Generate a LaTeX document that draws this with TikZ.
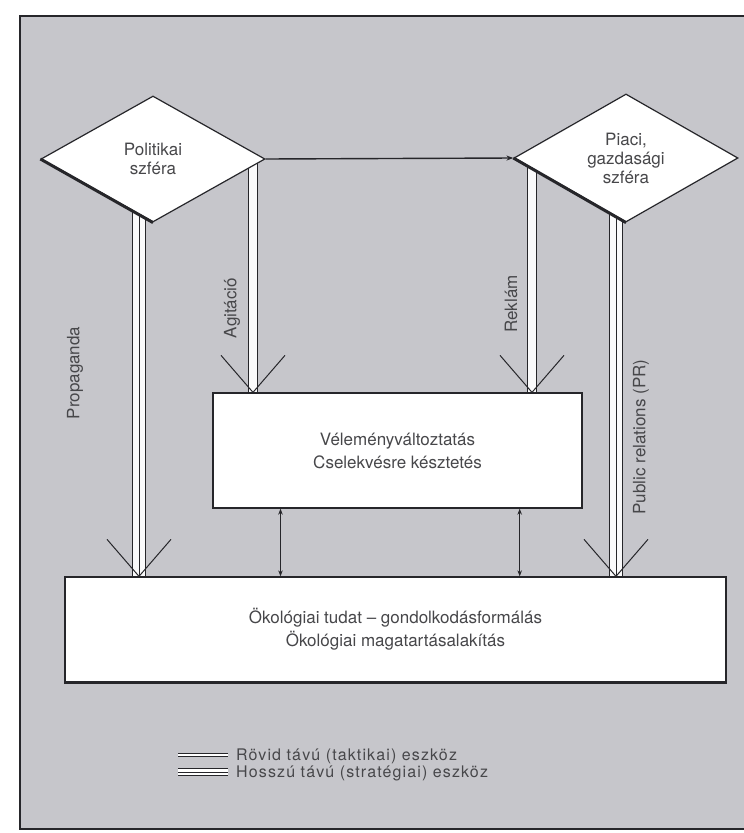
\documentclass[tikz,border=0pt]{standalone}
\usepackage{fontspec}
\setmainfont{TeX Gyre Heros}
\usetikzlibrary{shapes.geometric,arrows.meta,calc,positioning}
\definecolor{screen}{RGB}{198,198,203}
\definecolor{ink}{RGB}{38,38,42}
\pgfdeclarelayer{back}
\pgfdeclarelayer{shafts}
\pgfsetlayers{back,shafts,main}

\tikzset{
  sphere/.style={diamond, draw=ink, fill=white, line width=1.2pt,
    minimum width=224pt, minimum height=126pt, inner sep=0pt, align=center,
    text=ink!85, font=\fontsize{17}{19}\selectfont},
  panel/.style={draw=ink, fill=white, line width=1.3pt, inner sep=0pt,
    align=center, text=ink!85, font=\fontsize{17}{23}\selectfont},
  tag/.style={rotate=90, inner sep=0pt, text=ink!85, font=\fontsize{17}{19}\selectfont},
  keytext/.style={anchor=west, inner sep=0pt, text=ink!85,
    font=\fontsize{16}{17}\selectfont\addfontfeature{LetterSpace=7}},
  shaft/.style={draw=ink, line width=1pt},
  twin/.style={draw=ink, line width=1pt, double=white!92!screen},
  link/.style={draw=ink, line width=1.1pt, {Stealth[length=6pt,width=4.5pt]}-{Stealth[length=6pt,width=4.5pt]}}
}

\begin{document}
\begin{tikzpicture}[x=1pt, y=-1pt]
\useasboundingbox (0,0) rectangle (744,833);

% frame
\begin{pgfonlayer}{back}
\fill[white] (0,0) rectangle (744,833);
\draw[fill=screen, draw=ink, line width=1.6pt] (20,16) rectangle (760,829);
\end{pgfonlayer}

% spheres
\node[sphere] (pol) at (153,159) {Politikai\\szféra};
\node[sphere] (pia) at (626,158) {Piaci,\\gazdasági\\szféra};
\draw[ink, line width=3pt] (pol.west) -- (pol.south);
\draw[ink, line width=3pt] (pia.west) -- (pia.south);

% boxes
\node[panel, minimum width=369pt, minimum height=115pt] (mid) at (397.5,450.5)
  {Véleményváltoztatás\\Cselekvésre késztetés};
\node[panel, minimum width=661pt, minimum height=105pt] (bot) at (395.5,629.5)
  {Ökológiai tudat – gondolkodásformálás\\Ökológiai magatartásalakítás};
\draw[ink, line width=2.4pt] (bot.south west) -- (bot.south east);

% top arrow
\draw[ink, line width=1.4pt, -{Stealth[length=7pt,width=5pt]}] (pol.east) -- (pia.west);

% shafts
\coordinate (propA) at ($(pol.center)+(-14,0)$);
\coordinate (propB) at (propA |- bot.north);
\coordinate (agiA) at ($(pol.center)+(100,0)$);
\coordinate (agiB) at (agiA |- mid.north);
\coordinate (rekA) at ($(pia.center)+(-94,0)$);
\coordinate (rekB) at (rekA |- mid.north);
\coordinate (prA) at ($(pia.center)+(-10,0)$);
\coordinate (prB) at (prA |- bot.north);

\begin{pgfonlayer}{shafts}
\draw[twin, double distance=12pt] (propA) -- (propB);
\draw[shaft] (propA) -- (propB);
\draw[twin, double distance=12pt] (prA) -- (prB);
\draw[shaft] (prA) -- (prB);
\draw[twin, double distance=8pt] (agiA) -- (agiB);
\draw[twin, double distance=8pt] (rekA) -- (rekB);
\end{pgfonlayer}

% heads
\foreach \tip in {propB, agiB, rekB, prB}
  \draw[shaft] ($(\tip)+(-32,-37)$) -- (\tip) -- ($(\tip)+(32,-37)$);

% labels
\node[tag] (propL) at (75,373) {Propaganda};
\node[tag] (agiL) at (232,308) {Agitáció};
\node[tag] (rekL) at (511,304) {Reklám};
\node[tag] (prL) at (641,437) {Public relations (PR)};

% links
\coordinate (lnk1) at ($(mid.south west)!0.184!(mid.south east)$);
\coordinate (lnk2) at ($(mid.south west)!0.83!(mid.south east)$);
\draw[link] (lnk1) -- (lnk1 |- bot.north);
\draw[link] (lnk2) -- (lnk2 |- bot.north);

% legend
\coordinate (key1) at (178,755);
\coordinate (key1e) at (228,755);
\coordinate (key2) at (178,772);
\coordinate (key2e) at (228,772);
\draw[ink, line width=1pt, double=white, double distance=2.6pt] (key1) -- (key1e);
\draw[ink, line width=1pt, double=white, double distance=6pt] (key2) -- (key2e);
\draw[ink, line width=1pt] (key2) -- (key2e);
\node[keytext] (keyS) at (236,756) {Rövid távú (taktikai) eszköz};
\node[keytext] (keyL) at (236,773) {Hosszú távú (stratégiai) eszköz};
\end{tikzpicture}
\end{document}
